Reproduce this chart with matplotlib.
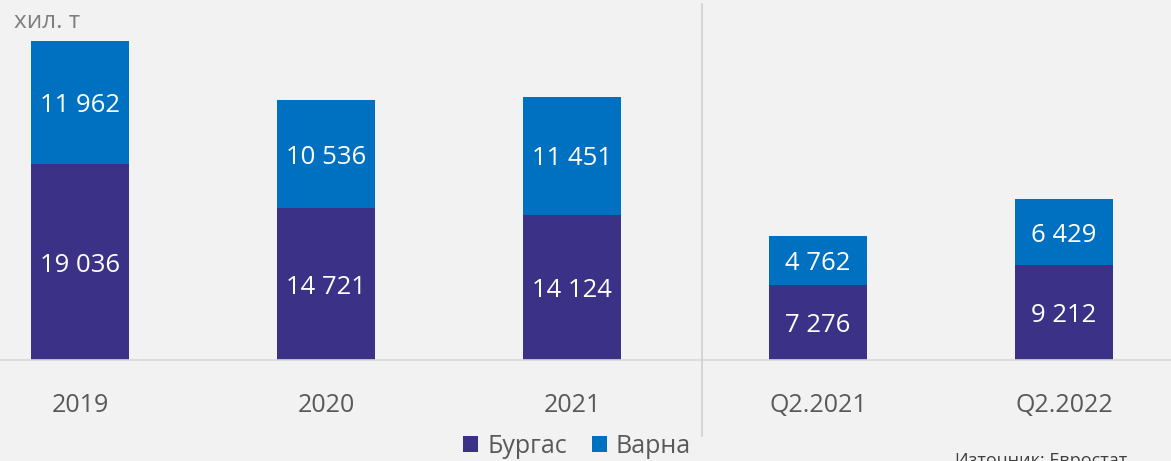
import matplotlib.pyplot as plt
import numpy as np

plt.rcParams['font.family'] = ['Open Sans', 'DejaVu Sans']

categories = ['2019', '2020', '2021', 'Q2.2021', 'Q2.2022']
burgas = [19036, 14721, 14124, 7276, 9212]
varna = [11962, 10536, 11451, 4762, 6429]

c_burgas = '#3B3186'
c_varna = '#0070C0'
bg = '#F2F2F2'

W, H = 1171, 461
fig = plt.figure(figsize=(W / 100, H / 100), dpi=100, facecolor=bg)
ax = fig.add_axes([0, (H - 360) / H, 1, 350 / H], facecolor=bg)

x = np.arange(len(categories))
ax.bar(x, burgas, width=0.4, color=c_burgas, label='Бургас')
ax.bar(x, varna, width=0.4, bottom=burgas, color=c_varna, label='Варна')

fmt = lambda v: f'{v:,}'.replace(',', ' ')
for i in range(len(categories)):
    ax.text(x[i], burgas[i] / 2, fmt(burgas[i]), ha='center', va='center_baseline',
            color='white', fontsize=18.5)
    ax.text(x[i], burgas[i] + varna[i] / 2, fmt(varna[i]), ha='center',
            va='center_baseline', color='white', fontsize=18.5)

ax.set_xlim(-80 / 246, (W - 80) / 246)
ax.set_ylim(0, 34000)
ax.set_yticks([])
ax.set_xticks(x)
ax.set_xticklabels(categories, fontsize=18, color='#595959')
ax.tick_params(axis='x', length=0, pad=24)
for s in ['top', 'right', 'left']:
    ax.spines[s].set_visible(False)
ax.spines['bottom'].set_color('#D9D9D9')
ax.spines['bottom'].set_linewidth(1.2)

# separator between years and quarters
fig.add_artist(plt.Line2D([702 / W, 702 / W], [1 - 4 / H, 1 - 436 / H],
                          color='#D0D0D0', linewidth=1.2))

fig.text(14 / W, 1 - 22 / H, 'хил. т', fontsize=17.5, color='#7F7F7F', va='center')

leg = fig.legend(loc='center', bbox_to_anchor=(577 / W, 1 - 446 / H), ncol=2,
                 frameon=False, fontsize=18, handlelength=0.6, handleheight=0.6,
                 handletextpad=0.35, columnspacing=1.0)
for t in leg.get_texts():
    t.set_color('#595959')

fig.text(955 / W, 1 - 452 / H, 'Източник: Евростат', fontsize=13, color='#404040', va='top')

fig.savefig('out.png', dpi=100, facecolor=bg)
